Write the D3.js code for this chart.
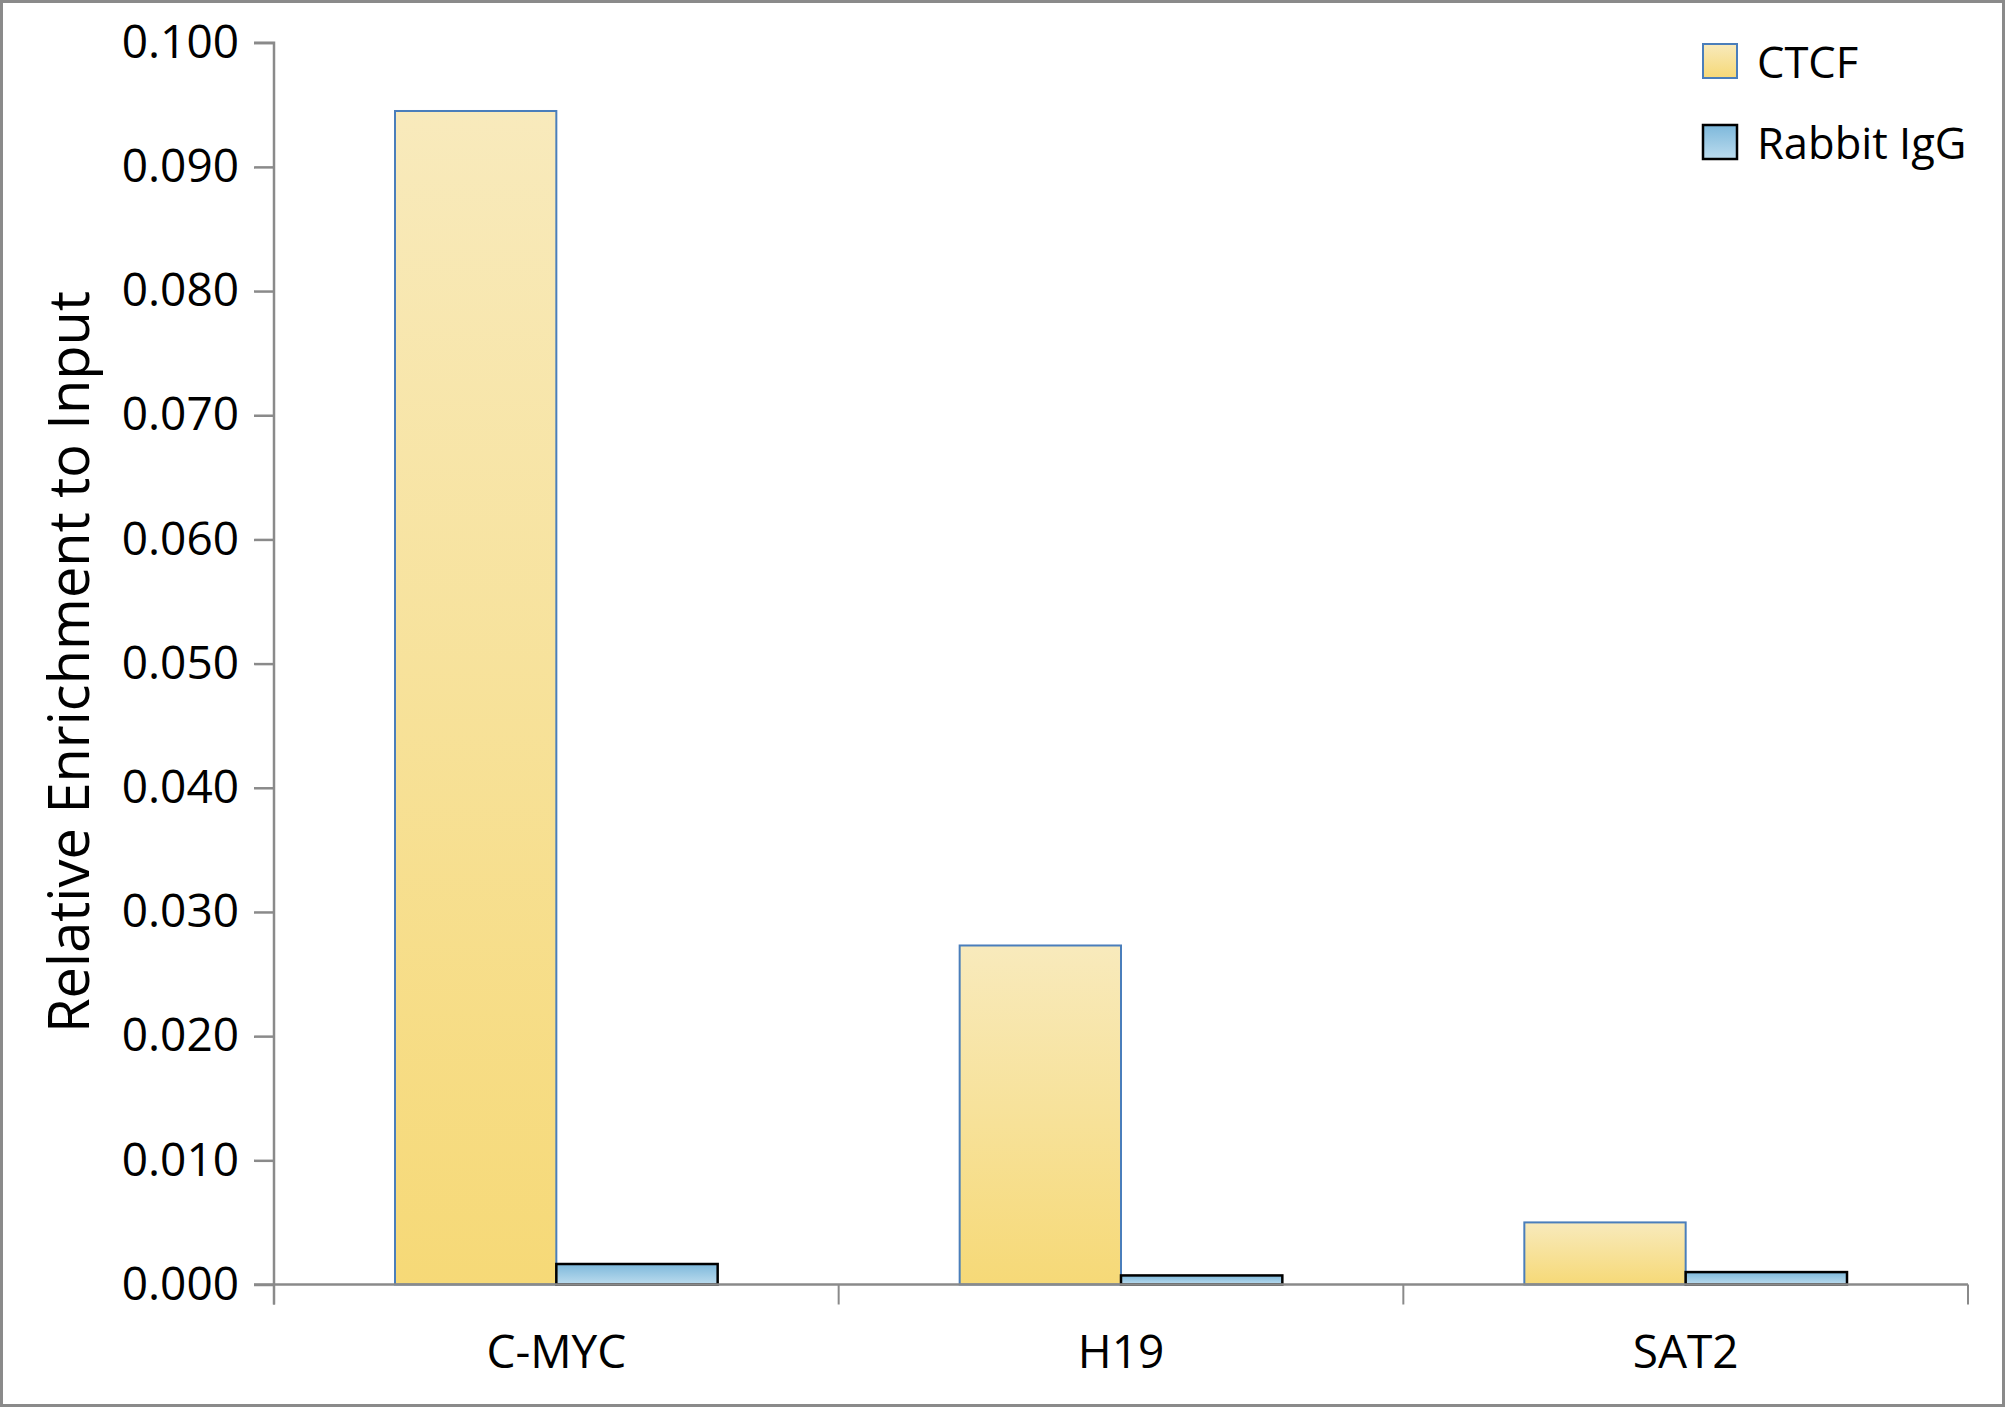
<!DOCTYPE html>
<html>
<head>
<meta charset="utf-8">
<script src="https://cdn.jsdelivr.net/npm/d3@7"></script>
<style>
  html, body { margin: 0; padding: 0; background: #fff; }
  svg { display: block; }
  text { font-family: "Open Sans", "Noto Sans", sans-serif; fill: #000; }
</style>
</head>
<body>
<svg id="chart" width="2005" height="1407"></svg>
<script>
const categories = ["C-MYC", "H19", "SAT2"];
const seriesNames = ["CTCF", "Rabbit IgG"];
const ctcfValues = [0.0945, 0.0273, 0.0050];
const iggValues = [0.00165, 0.00073, 0.00100];
const yTicks = [0, 0.01, 0.02, 0.03, 0.04, 0.05, 0.06, 0.07, 0.08, 0.09, 0.10];
const yTitle = "Relative Enrichment to Input";

(function () {
const svg = d3.select("#chart");
const W = 2005, H = 1407;
const pLeft = 274, pRight = 1968, pTop = 42.7, pBottom = 1284.5;

// outer frame
svg.append("rect").attr("x", 1.5).attr("y", 1.5).attr("width", W - 3).attr("height", H - 3)
  .attr("fill", "#fff").attr("stroke", "#8a8a8a").attr("stroke-width", 3);

const defs = svg.append("defs");
const g1 = defs.append("linearGradient").attr("id", "gradCTCF").attr("x1", 0).attr("y1", 0).attr("x2", 0).attr("y2", 1);
g1.append("stop").attr("offset", "0%").attr("stop-color", "#f8eabc");
g1.append("stop").attr("offset", "100%").attr("stop-color", "#f6d977");
const g2 = defs.append("linearGradient").attr("id", "gradIgG").attr("x1", 0).attr("y1", 0).attr("x2", 0).attr("y2", 1);
g2.append("stop").attr("offset", "0%").attr("stop-color", "#7db8db");
g2.append("stop").attr("offset", "100%").attr("stop-color", "#bcdcee");

const fills = ["url(#gradCTCF)", "url(#gradIgG)"];
const strokes = ["#4a7ebb", "#000000"];
const strokeW = [2, 2.5];

const x0 = d3.scaleBand().domain(categories).range([pLeft, pRight]).paddingInner(0).paddingOuter(0);
const x1 = d3.scaleBand().domain(seriesNames).range([0, x0.bandwidth()]).paddingInner(0).paddingOuter(0.75);
const y = d3.scaleLinear().domain([0, 0.1]).range([pBottom, pTop]);

const data = categories.map((c, i) => ({ cat: c, vals: [ctcfValues[i], iggValues[i]] }));

// bars
const groups = svg.append("g").selectAll("g").data(data).join("g")
  .attr("transform", d => `translate(${x0(d.cat)},0)`);
groups.selectAll("rect").data(d => d.vals.map((v, k) => ({ v, k }))).join("rect")
  .attr("x", d => x1(seriesNames[d.k]))
  .attr("y", d => y(d.v))
  .attr("width", x1.bandwidth())
  .attr("height", d => pBottom - y(d.v))
  .attr("fill", d => fills[d.k])
  .attr("stroke", d => strokes[d.k])
  .attr("stroke-width", d => strokeW[d.k]);

// y axis
const yAxis = d3.axisLeft(y).tickValues(yTicks).tickFormat(d3.format(".3f")).tickSize(20).tickPadding(15);
const ya = svg.append("g").attr("transform", `translate(${pLeft},0)`).call(yAxis);
ya.select(".domain").attr("stroke", "#8a8a8a").attr("stroke-width", 2.5)
  .attr("d", `M-20,${pTop}H0V${pBottom + 20}`);
ya.selectAll(".tick line").attr("stroke", "#8a8a8a").attr("stroke-width", 2.5);
ya.selectAll(".tick text").attr("font-size", 46).attr("fill", "#000")
  .style("font-family", "'Open Sans', sans-serif");

// x axis line and boundary ticks
const boundaries = categories.map(c => x0(c)).concat([pRight]);
svg.append("line").attr("x1", pLeft - 20).attr("x2", pRight).attr("y1", pBottom).attr("y2", pBottom)
  .attr("stroke", "#8a8a8a").attr("stroke-width", 2.5);
svg.append("g").selectAll("line").data(boundaries).join("line")
  .attr("x1", d => d).attr("x2", d => d).attr("y1", pBottom).attr("y2", pBottom + 20)
  .attr("stroke", "#8a8a8a").attr("stroke-width", 2);

// x labels
const xAxis = d3.axisBottom(x0).tickSize(0).tickPadding(0);
const xa = svg.append("g").attr("transform", `translate(0,${pBottom})`).call(xAxis);
xa.select(".domain").remove();
xa.selectAll(".tick text").attr("font-size", 46).attr("fill", "#000").attr("dy", null)
  .attr("y", 1368 - pBottom)
  .style("font-family", "'Open Sans', sans-serif");

// y title
svg.append("text").attr("transform", `translate(89,662) rotate(-90)`)
  .attr("text-anchor", "middle").attr("font-size", 56).text(yTitle);

// legend
const legY = [44, 125];
const lg = svg.append("g").selectAll("g").data(seriesNames).join("g");
lg.append("rect").attr("x", 1703).attr("y", (d, i) => legY[i]).attr("width", 34).attr("height", 34)
  .attr("fill", (d, i) => fills[i]).attr("stroke", (d, i) => strokes[i]).attr("stroke-width", (d, i) => strokeW[i]);
lg.append("text").attr("x", 1757).attr("y", (d, i) => legY[i] + 34).attr("font-size", 43.5).text(d => d);
})();
</script>
</body>
</html>
